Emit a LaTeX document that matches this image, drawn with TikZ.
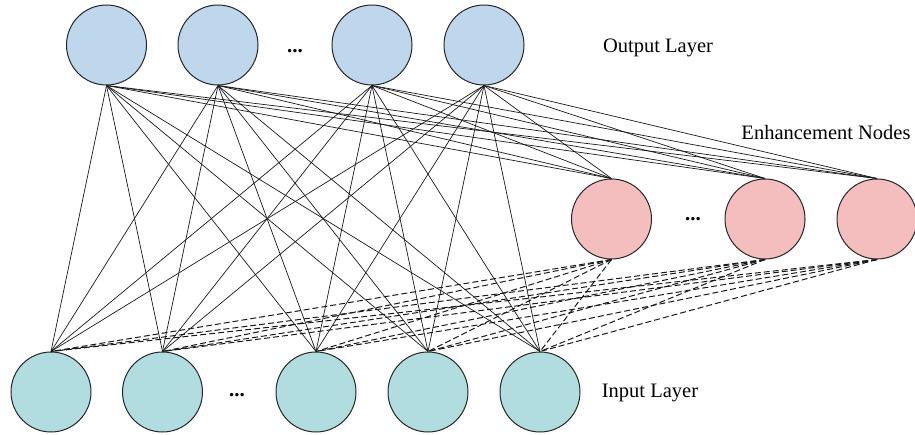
\documentclass[tikz,border=0pt]{standalone}
\usepackage{fontspec}
\setmainfont{Liberation Serif}
\begin{document}
\begin{tikzpicture}[x=1pt,y=-1pt,
  neuron/.style={circle,draw=black!85,line width=1pt,minimum size=80pt,inner sep=0pt},
  outn/.style={neuron,fill=outblue},
  enhn/.style={neuron,fill=enhpink},
  inn/.style={neuron,fill=inteal},
  wire/.style={line width=0.7pt,black!90},
  dwire/.style={line width=1pt,black!90,dash pattern=on 6pt off 3pt},
  lbl/.style={font=\fontsize{20.5}{24}\selectfont,anchor=base},
  ell/.style={font=\fontsize{21}{24}\selectfont\bfseries,anchor=base}]
\definecolor{outblue}{RGB}{190,215,237}
\definecolor{enhpink}{RGB}{244,190,190}
\definecolor{inteal}{RGB}{177,220,224}
\useasboundingbox (0,0) rectangle (915,434);

% output layer
\node[outn] (o1) at (106.5,45) {};
\node[outn] (o2) at (218,45) {};
\node[outn] (o3) at (372,45) {};
\node[outn] (o4) at (484,45) {};
\node[ell] (od) at (295,52) {...};

% enhancement nodes
\node[enhn] (e1) at (611.5,219) {};
\node[enhn] (e2) at (765,219) {};
\node[enhn] (e3) at (877,219) {};
\node[ell] (ed) at (693,220) {...};

% input layer
\node[inn] (i1) at (51,392) {};
\node[inn] (i2) at (162.5,392) {};
\node[inn] (i3) at (316,392) {};
\node[inn] (i4) at (428,392) {};
\node[inn] (i5) at (540,392) {};
\node[ell] (id) at (237,396) {...};

% layer captions
\node[lbl] (tout) at (658,52) {Output Layer};
\node[lbl] (tenh) at (826,139) {Enhancement Nodes};
\node[lbl] (tin) at (650,397) {Input Layer};

% output -> input and output -> enhancement (solid)
\foreach \o in {o1,o2,o3,o4}{
  \foreach \i in {i1,i2,i3,i4,i5}
    \draw[wire] (\o.south) -- (\i.north);
  \foreach \e in {e1,e2,e3}
    \draw[wire] (\o.south) -- (\e.north);
}
% enhancement -> input (dashed)
\foreach \e in {e1,e2,e3}
  \foreach \i in {i1,i2,i3,i4,i5}
    \draw[dwire] (\e.south) -- (\i.north);
\end{tikzpicture}
\end{document}
